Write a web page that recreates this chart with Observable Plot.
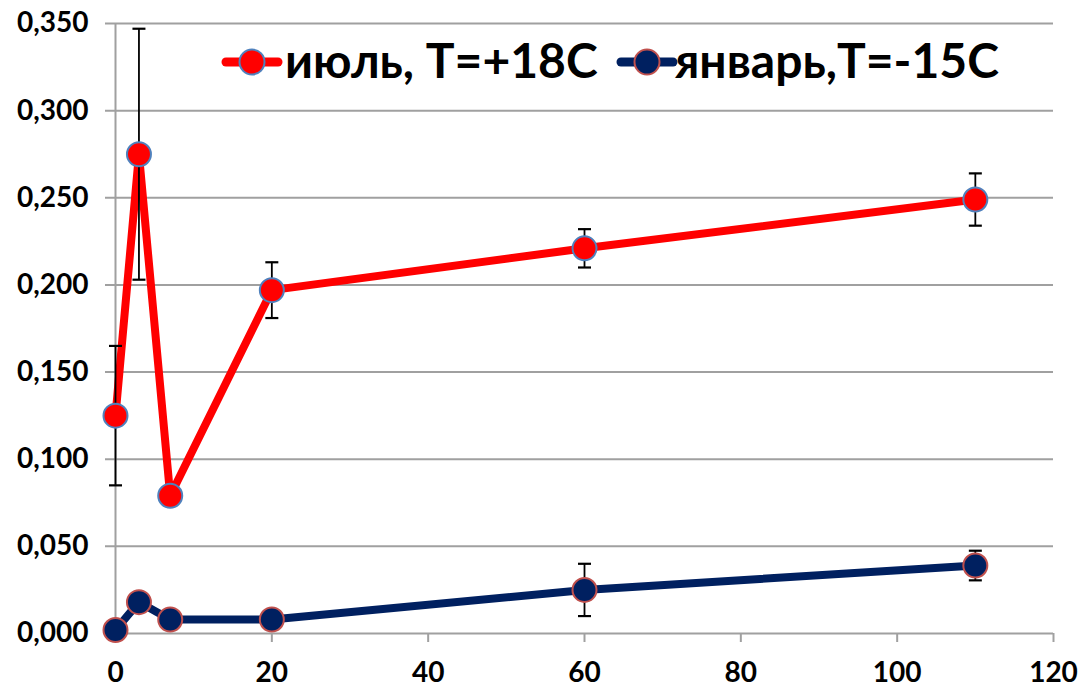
<!DOCTYPE html>
<html>
<head>
<meta charset="utf-8">
<script src="https://cdn.jsdelivr.net/npm/d3@7"></script>
<script src="https://cdn.jsdelivr.net/npm/@observablehq/plot@0.6"></script>
<style>
  body { margin: 0; background: #fff; }
  #chart { position: relative; width: 1080px; height: 690px; font-family: Lato, "Open Sans", sans-serif; }
  #legend { position: absolute; left: 0; top: 0; pointer-events: none; }
</style>
</head>
<body>
<div id="chart"></div>
<script>
// Days after the start of the experiment
const days = [0, 3, 7, 20, 60, 110];

// July series (T = +18C): means and half-widths of the error bars
const julyValues = [0.125, 0.275, 0.079, 0.197, 0.221, 0.249];
const julyErrors = [0.040, 0.072, 0, 0.016, 0.011, 0.015];

// January series (T = -15C)
const januaryValues = [0.002, 0.018, 0.008, 0.008, 0.025, 0.039];
const januaryErrors = [0, 0.004, 0, 0, 0.015, 0.0085];

const seriesNames = ["июль, T=+18C", "январь,T=-15C"];
const lineColors = ["#ff0000", "#002060"];
const markerStrokes = ["#4f81bd", "#c0504d"];

const xTicks = [0, 20, 40, 60, 80, 100, 120];
const yTicks = [0, 0.05, 0.1, 0.15, 0.2, 0.25, 0.3, 0.35];

const rows = [];
[[julyValues, julyErrors], [januaryValues, januaryErrors]].forEach(([vals, errs], s) => {
  days.forEach((d, i) => rows.push({series: seriesNames[s], day: d, value: vals[i], err: errs[i]}));
});
const errRows = rows.filter(r => r.err > 0);

// horizontal cap for the error bars
const capSymbol = {draw(ctx) { ctx.moveTo(-6.5, 0); ctx.lineTo(6.5, 0); }};

const fmtY = d => d3.format(".3f")(d).replace(".", ",");
const font = "Lato, 'Open Sans', sans-serif";

const chart = Plot.plot({
  width: 1080,
  height: 690,
  marginLeft: 115,
  marginRight: 27,
  marginTop: 23,
  marginBottom: 57,
  style: {fontFamily: font, background: "#fff"},
  x: {domain: [0, 120]},
  y: {domain: [0, 0.35]},
  color: {domain: seriesNames, range: lineColors},
  marks: [
    // gridlines run a little past the value axis, as short tick marks
    Plot.ruleY(yTicks.filter(t => t > 0), {stroke: "#a0a0a0", strokeWidth: 2, insetLeft: -10}),
    Plot.ruleY([0], {stroke: "#a0a0a0", strokeWidth: 2}),
    Plot.ruleX([0], {stroke: "#a0a0a0", strokeWidth: 2}),
    Plot.axisX({ticks: xTicks, tickSize: 9, tickPadding: 20, stroke: "#a0a0a0", strokeWidth: 2,
      fontSize: 28, fontWeight: "bold", fill: "#000", label: null}),
    Plot.axisY({ticks: yTicks, tickSize: 0, tickPadding: 27, tickFormat: fmtY,
      fontSize: 28, fontWeight: "bold", fill: "#000", label: null}),
    Plot.line(rows, {x: "day", y: "value", z: "series", stroke: "series", strokeWidth: 8, strokeLinejoin: "miter"}),
    Plot.ruleX(errRows, {x: "day", y1: d => d.value - d.err, y2: d => d.value + d.err, stroke: "#000", strokeWidth: 1.8}),
    Plot.dot(errRows, {x: "day", y: d => d.value + d.err, symbol: capSymbol, stroke: "#000", strokeWidth: 2.2, fill: "none"}),
    Plot.dot(errRows, {x: "day", y: d => d.value - d.err, symbol: capSymbol, stroke: "#000", strokeWidth: 2.2, fill: "none"}),
    Plot.dot(rows, {x: "day", y: "value", r: 12, fill: "series",
      stroke: d => markerStrokes[seriesNames.indexOf(d.series)], strokeWidth: 2})
  ]
});

const host = document.getElementById("chart");
host.appendChild(chart);

// Legend drawn over the plotting area
const legend = d3.select(host).append("svg")
  .attr("id", "legend").attr("width", 1080).attr("height", 120);
const legendItems = [
  {swatch: 222, text: 285},
  {swatch: 617, text: 675}
];
legendItems.forEach((pos, i) => {
  const g = legend.append("g");
  g.append("line").attr("x1", pos.swatch + 4).attr("x2", pos.swatch + 56)
    .attr("y1", 62).attr("y2", 62)
    .attr("stroke", lineColors[i]).attr("stroke-width", 9).attr("stroke-linecap", "round");
  g.append("circle").attr("cx", pos.swatch + 30).attr("cy", 62).attr("r", 12.5)
    .attr("fill", lineColors[i]).attr("stroke", markerStrokes[i]).attr("stroke-width", 2);
  g.append("text").attr("x", pos.text).attr("y", 78)
    .attr("font-family", font).attr("font-weight", "bold").attr("font-size", 48)
    .attr("fill", "#000").text(seriesNames[i]);
});
</script>
</body>
</html>
